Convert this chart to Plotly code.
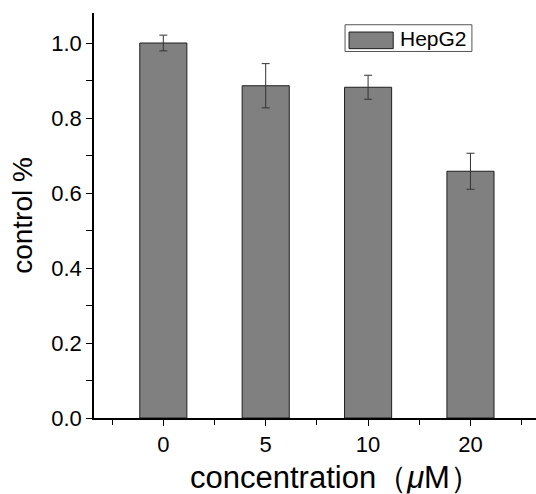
import plotly.graph_objects as go

# HepG2 viability relative to untreated control
concentrations = ["0", "5", "10", "20"]
control_ratio = [1.000, 0.886, 0.882, 0.658]
ratio_error = [0.021, 0.059, 0.032, 0.048]
series_name = "HepG2"

FONT = "Arial, Liberation Sans, sans-serif"
BAR_FILL = "#808080"
EDGE = "#1e1e1e"

x_pos = list(range(len(concentrations)))

fig = go.Figure()
fig.add_trace(go.Bar(
    x=x_pos,
    y=control_ratio,
    width=0.46,
    name=series_name,
    marker=dict(color=BAR_FILL, line=dict(color=EDGE, width=1)),
    error_y=dict(type="data", array=ratio_error, visible=True,
                 color="#333333", thickness=1, width=4),
    showlegend=False,
))

fig.update_layout(
    width=536, height=494,
    margin=dict(l=94, r=0, t=13, b=76),
    paper_bgcolor="white", plot_bgcolor="white",
    font=dict(family=FONT, color="black", size=22),
    xaxis=dict(
        range=[-0.677, 3.64],
        tickmode="array", tickvals=x_pos, ticktext=concentrations,
        ticks="outside", ticklen=6, tickwidth=1.2, tickcolor="black",
        minor=dict(tickmode="array", tickvals=[-0.5, 0.5, 1.5, 2.5, 3.5],
                   ticks="outside", ticklen=5, tickwidth=1.2, tickcolor="black"),
        showline=True, linecolor="black", linewidth=1.6,
        showgrid=False, zeroline=False,
        tickfont=dict(size=22),
        ticklabelstandoff=0,
    ),
    yaxis=dict(
        range=[0, 1.08],
        tickmode="array", tickvals=[0, 0.2, 0.4, 0.6, 0.8, 1.0],
        ticktext=["0.0", "0.2", "0.4", "0.6", "0.8", "1.0"],
        ticks="outside", ticklen=6, tickwidth=1.2, tickcolor="black",
        minor=dict(tickmode="array", tickvals=[0.1, 0.3, 0.5, 0.7, 0.9],
                   ticks="outside", ticklen=6, tickwidth=1.2, tickcolor="black"),
        showline=True, linecolor="black", linewidth=1.6,
        showgrid=False, zeroline=False,
        tickfont=dict(size=22),
        ticklabelstandoff=0,
        title=dict(text="control %", font=dict(size=28), standoff=10),
    ),
)

# x-axis title sits just above the bottom edge
fig.add_annotation(xref="paper", yref="paper", x=0.213, y=-0.147,
                   xanchor="left", yanchor="middle", showarrow=False,
                   text="concentration（<i>μ</i>M）",
                   font=dict(size=31, family=FONT, color="black"))

# Legend box with a wide swatch
fig.add_shape(type="rect", xref="paper", yref="paper",
              x0=0.568, x1=0.855, y0=0.905, y1=0.971,
              line=dict(color="#555555", width=1), fillcolor="white")
fig.add_shape(type="rect", xref="paper", yref="paper",
              x0=0.577, x1=0.677, y0=0.912, y1=0.953,
              line=dict(color=EDGE, width=1), fillcolor=BAR_FILL)
fig.add_annotation(xref="paper", yref="paper", x=0.688, y=0.937,
                   xanchor="left", yanchor="middle", showarrow=False,
                   text=series_name, font=dict(size=21, family=FONT, color="black"))

fig.write_html("out.html")
